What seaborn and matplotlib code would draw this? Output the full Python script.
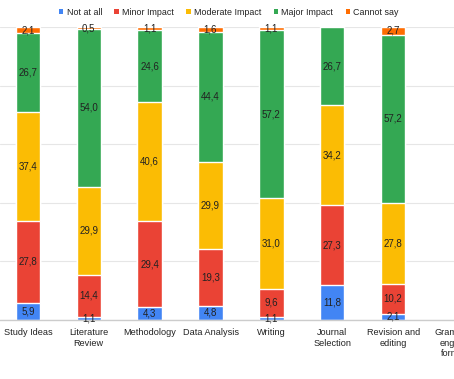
import matplotlib
matplotlib.use("Agg")
import matplotlib.pyplot as plt
import seaborn as sns
import pandas as pd
import numpy as np
from matplotlib.patches import Patch

categories = ["Study Ideas", "Literature\nReview", "Methodology", "Data Analysis",
              "Writing", "Journal\nSelection", "Revision and\nediting"]
extra_label = "Grammar\nenglish\nformat"

series = ["Not at all", "Minor Impact", "Moderate Impact", "Major Impact", "Cannot say"]
not_at_all = [5.9, 1.1, 4.3, 4.8, 1.1, 11.8, 2.1]
minor_impact = [27.8, 14.4, 29.4, 19.3, 9.6, 27.3, 10.2]
moderate_impact = [37.4, 29.9, 40.6, 29.9, 31.0, 34.2, 27.8]
major_impact = [26.7, 54.0, 24.6, 44.4, 57.2, 26.7, 57.2]
cannot_say = [2.1, 0.5, 1.1, 1.6, 1.1, 0.0, 2.7]

colors = ["#4285F4", "#EA4335", "#FBBC04", "#34A853", "#FF6D01"]

sns.set_style("white")
plt.rcParams['font.family'] = ['Liberation Sans', 'DejaVu Sans']

values = np.array([not_at_all, minor_impact, moderate_impact, major_impact, cannot_say])
cum = np.cumsum(values, axis=0)

fig = plt.figure(figsize=(4.54, 3.79), dpi=100)
ax = fig.add_axes([0, 59 / 379, 1, 293 / 379])

# stacked bars: draw cumulative totals from the top segment down
for i in range(len(series) - 1, -1, -1):
    df = pd.DataFrame({"cat": list(range(len(categories))), "val": cum[i]})
    sns.barplot(data=df, x="cat", y="val", color=colors[i], width=0.4,
                saturation=1, ax=ax, native_scale=True, zorder=2)

for i in range(len(series)):
    for j in range(len(categories)):
        v = values[i, j]
        if v <= 0:
            continue
        mid = cum[i, j] - v / 2
        ax.text(j, mid, f"{v:.1f}".replace(".", ","), ha="center", va="center",
                fontsize=7, color="#222222", zorder=3)

ax.set_xlim(-0.458, 6.79)
ax.set_ylim(0, 100)
ax.set_yticks([0, 20, 40, 60, 80, 100])
ax.set_yticklabels([])
ax.tick_params(axis="y", length=0)
ax.yaxis.grid(True, color="#e6e6e6", linewidth=0.8, zorder=0)
ax.set_axisbelow(True)
ax.set_xticks(list(range(len(categories) + 1)))
ax.set_xticklabels(categories + [extra_label], fontsize=6.6, color="#222222")
ax.tick_params(axis="x", length=0, pad=6)
ax.set_xlabel("")
ax.set_ylabel("")
for s in ["top", "left", "right"]:
    ax.spines[s].set_visible(False)
ax.spines["bottom"].set_color("#cccccc")
ax.spines["bottom"].set_linewidth(1)

handles = [Patch(facecolor=c, edgecolor="none") for c in colors]
fig.legend(handles, series, loc="center", bbox_to_anchor=(0.504, 0.968), ncol=5,
           frameon=False, fontsize=6.4, handlelength=0.5, handleheight=0.5,
           handletextpad=0.35, columnspacing=1.4, labelcolor="#222222")

fig.savefig("out.png", dpi=100)
